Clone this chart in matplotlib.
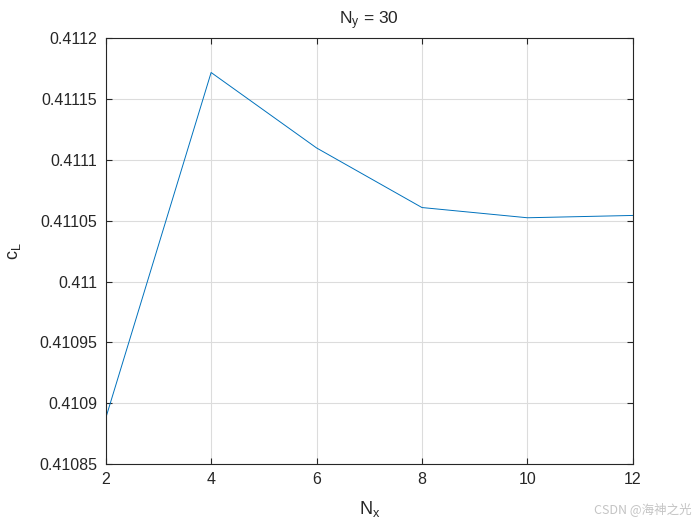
import matplotlib
matplotlib.use("Agg")
import matplotlib.pyplot as plt

plt.rcParams['font.family'] = ['Liberation Sans', 'DejaVu Sans']
plt.rcParams['mathtext.default'] = 'regular'

nx = [2, 4, 6, 8, 10, 12]
cl = [0.4108877, 0.4111719, 0.4111099, 0.4110609, 0.4110525, 0.4110544]

y_ticks = [0.41085, 0.4109, 0.41095, 0.411, 0.41105, 0.4111, 0.41115, 0.4112]
y_labels = ["0.41085", "0.4109", "0.41095", "0.411", "0.41105", "0.4111", "0.41115", "0.4112"]
x_ticks = [2, 4, 6, 8, 10, 12]

fig = plt.figure(figsize=(7, 5.25), dpi=100)
ax = fig.add_axes([0.151, 0.116, 0.753, 0.811])

ax.plot(nx, cl, color='#0072BD', linewidth=0.7)

ax.set_xlim(2, 12)
ax.set_ylim(0.41085, 0.4112)
ax.set_xticks(x_ticks)
ax.set_yticks(y_ticks)
ax.set_yticklabels(y_labels)

ax.grid(True, color='#DCDCDC', linewidth=0.8)
ax.set_axisbelow(True)
ax.tick_params(direction='in', top=True, right=True, labelsize=11.5, length=4,
               width=0.8, colors='#262626', pad=6)
for s in ax.spines.values():
    s.set_color('#262626')
    s.set_linewidth(0.8)

# 下标放大一点, 接近原图样式
ax.set_title(r"N$_{\mathregular{y}}$ = 30", fontsize=12.5, color='#262626', pad=10)
ax.set_xlabel(r"N$_{\mathregular{x}}$", fontsize=13, color='#262626', labelpad=8)
ax.set_ylabel(r"c$_{\mathregular{L}}$", fontsize=13, color='#262626', labelpad=12)

# 水印
fig.text(0.988, 0.018, "CSDN @海神之光", ha='right', va='bottom', fontsize=9,
         color='#C4C4C4', family=['Noto Sans CJK SC', 'DejaVu Sans'])

fig.savefig("out.png", dpi=100)
